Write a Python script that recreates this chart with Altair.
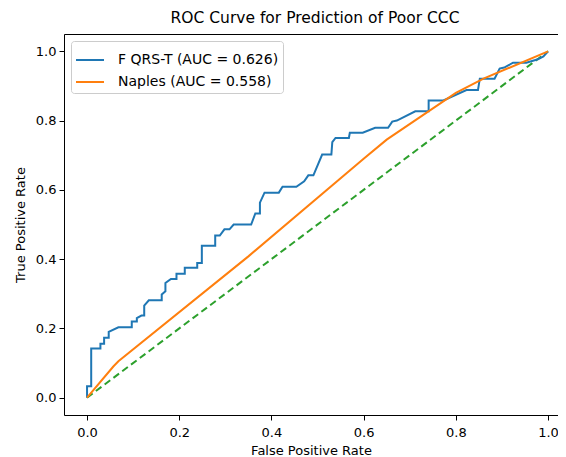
import altair as alt
import pandas as pd

# F QRS-T ROC curve points (FPR, TPR)
fqrst_fpr = [0, 0, 0.009, 0.009, 0.029, 0.029, 0.037, 0.037, 0.047, 0.047, 0.068, 0.097, 0.097, 0.108, 0.108,
             0.118, 0.124, 0.124, 0.134, 0.162, 0.162, 0.17, 0.17, 0.182, 0.194, 0.194, 0.212, 0.212, 0.239,
             0.239, 0.249, 0.249, 0.278, 0.278, 0.288, 0.298, 0.309, 0.318, 0.356, 0.365, 0.375, 0.375, 0.385,
             0.416, 0.424, 0.454, 0.471, 0.48, 0.491, 0.51, 0.53, 0.532, 0.539, 0.568, 0.57, 0.598, 0.625,
             0.653, 0.662, 0.672, 0.712, 0.741, 0.741, 0.773, 0.823, 0.848, 0.852, 0.884, 0.895, 0.905, 0.924,
             0.953, 0.978, 0.99, 1.0]
fqrst_tpr = [0, 0.033, 0.033, 0.142, 0.142, 0.156, 0.156, 0.173, 0.173, 0.19, 0.203, 0.203, 0.22, 0.22, 0.23,
             0.237, 0.237, 0.266, 0.281, 0.281, 0.298, 0.307, 0.331, 0.343, 0.343, 0.358, 0.358, 0.375, 0.375,
             0.389, 0.389, 0.439, 0.439, 0.468, 0.468, 0.486, 0.486, 0.5, 0.5, 0.532, 0.532, 0.563, 0.592,
             0.592, 0.609, 0.609, 0.625, 0.642, 0.642, 0.702, 0.702, 0.738, 0.75, 0.75, 0.765, 0.765, 0.779,
             0.779, 0.797, 0.8, 0.827, 0.827, 0.858, 0.858, 0.888, 0.888, 0.921, 0.921, 0.95, 0.953, 0.967,
             0.967, 0.977, 0.985, 1.0]

# Naples ROC curve points
naples_fpr = [0, 0.057, 0.068, 0.35, 0.6, 0.65, 0.8, 0.86, 1.0]
naples_tpr = [0, 0.09, 0.105, 0.408, 0.69, 0.745, 0.88, 0.921, 1.0]

# chance diagonal
diag_fpr = [0, 1]
diag_tpr = [0, 1]

series_names = ["F QRS-T (AUC = 0.626)", "Naples (AUC = 0.558)"]
series_colors = ["#1f77b4", "#ff7f0e"]

rows = []
for i, (x, y) in enumerate(zip(fqrst_fpr, fqrst_tpr)):
    rows.append({"fpr": x, "tpr": y, "series": series_names[0], "order": i})
for i, (x, y) in enumerate(zip(naples_fpr, naples_tpr)):
    rows.append({"fpr": x, "tpr": y, "series": series_names[1], "order": i})
df = pd.DataFrame(rows)
diag = pd.DataFrame({"fpr": diag_fpr, "tpr": diag_tpr})

FONT = "DejaVu Sans"
ticks = [0, 0.2, 0.4, 0.6, 0.8, 1.0]

xscale = alt.Scale(domain=[-0.05, 1.0216], nice=False, zero=False)
yscale = alt.Scale(domain=[-0.05, 1.05], nice=False, zero=False)

common = dict(grid=False, domain=True, domainColor="black", domainWidth=1, tickColor="black",
              tickSize=5, labelFontSize=13, titleFontSize=13, labelColor="black", titleColor="black",
              titleFontWeight="normal", labelFont=FONT, titleFont=FONT)

xaxis_bottom = alt.Axis(title="False Positive Rate", values=ticks, format=".1f", labelPadding=6,
                        titlePadding=5, **common)
xaxis_top = alt.Axis(orient="top", title=None, labels=False, ticks=False, grid=False, domain=True,
                     domainColor="black", domainWidth=1)
yaxis = alt.Axis(title="True Positive Rate", values=ticks, format=".1f", labelPadding=3,
                 titlePadding=8, **common)

diag_layer = alt.Chart(diag).mark_line(color="#2ca02c", strokeWidth=2, strokeDash=[7, 4]).encode(
    x=alt.X("fpr:Q", scale=xscale, axis=xaxis_top),
    y=alt.Y("tpr:Q", scale=yscale, axis=yaxis),
)

curves = alt.Chart(df).mark_line(strokeWidth=2).encode(
    x=alt.X("fpr:Q", scale=xscale, axis=xaxis_bottom),
    y=alt.Y("tpr:Q", scale=yscale, axis=yaxis),
    color=alt.Color("series:N", scale=alt.Scale(domain=series_names, range=series_colors),
                    legend=alt.Legend(title=None, orient="top-left", offset=7,
                                      symbolType="stroke", symbolSize=784,
                                      symbolStrokeWidth=2, labelFontSize=14, labelLimit=400,
                                      labelFont=FONT, labelColor="black", strokeColor="#cccccc",
                                      cornerRadius=3, padding=4, rowPadding=-4, labelOffset=13,
                                      fillColor="white")),
    order="order:Q",
    detail="series:N",
)

chart = alt.layer(diag_layer, curves).resolve_axis(x="independent").properties(
    width=494,
    height=381,
    title=alt.TitleParams("ROC Curve for Prediction of Poor CCC", fontSize=15.5, font=FONT,
                          fontWeight="normal", color="black", anchor="middle", offset=8, dx=4),
    autosize=alt.AutoSizeParams(type="none"),
    padding={"left": 56, "top": 26, "right": 0, "bottom": 45},
).configure_view(stroke=None).configure(background="white")

chart.save("out.html", embed_options={"renderer": "svg", "actions": False})
